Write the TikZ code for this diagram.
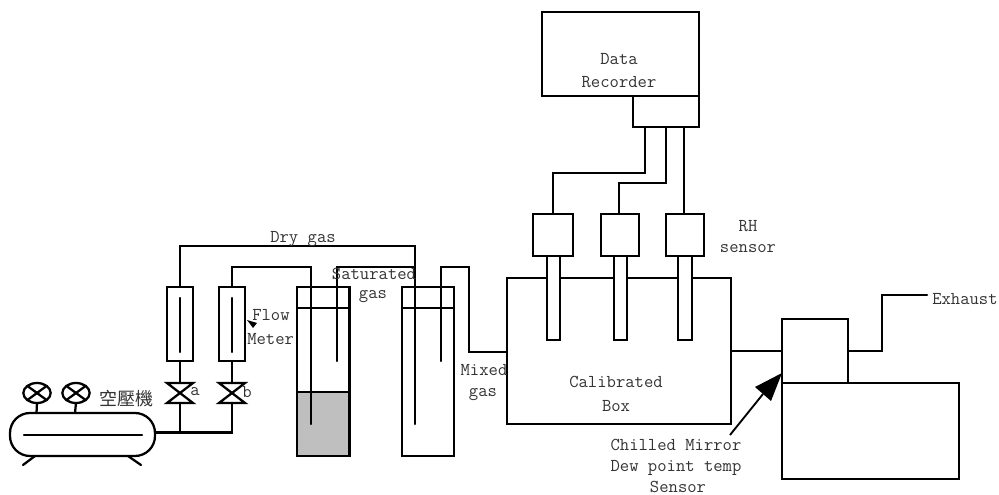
\documentclass[tikz,border=0pt]{standalone}
\usepackage{fontspec}
\usetikzlibrary{shapes.geometric}
\newfontfamily\cjkfont{Noto Sans CJK TC}
\definecolor{txt}{gray}{0.2}
\tikzset{
  pipe/.style={line width=1.7pt,line cap=round,line join=miter,black},
  boxn/.style={draw=black,line width=1.7pt,inner sep=0pt,outer sep=0pt,fill=white},
  lab/.style={font=\ttfamily\fontsize{13.6}{13.6}\selectfont,text=txt,inner sep=0pt},
  gauge/.style={boxn,ellipse,minimum width=20.5pt,minimum height=15pt},
}
% name, x1, y1, x2, y2 in reference pixels
\newcommand{\pxbox}[5]{%
  \pgfmathsetmacro{\cxx}{(#2+#4)/2}%
  \pgfmathsetmacro{\cyy}{(#3+#5)/2}%
  \pgfmathsetmacro{\www}{(#4-#2)*0.75}%
  \pgfmathsetmacro{\hhh}{(#5-#3)*0.75}%
  \node[boxn,minimum width=\www pt,minimum height=\hhh pt] (#1) at (\cxx,\cyy) {};}
% valve centred on x, between y 383 and 403
\newcommand{\valve}[2]{%
  \coordinate (#1top) at (#2,383);
  \coordinate (#1bot) at (#2,403);
  \draw[pipe] (#2-13,383) -- (#2+13,383) -- (#2-13,403) -- (#2+13,403) -- cycle;}
\begin{document}
\begin{tikzpicture}[x=0.75pt,y=-0.75pt]
\useasboundingbox (0,0) rectangle (999,495);
% bottles
\pxbox{bot1}{297}{287}{349.5}{456}
\fill[black!25] (297,392) rectangle (349.5,456);
\draw[pipe] (297,392) -- (349.5,392);
\draw[pipe] (297,287) rectangle (349.5,456);
\draw[pipe] (297,308) -- (349.5,308);
\pxbox{bot2}{402}{287}{454}{456}
\draw[pipe] (402,308) -- (454,308);
% compressor
\draw[boxn,rounded corners=15pt] (10,413) rectangle (155,456);
\coordinate (tankout) at (155,432.5);
\draw[pipe] (24,435) -- (142,435);
\draw[pipe] (35,456) -- (23,465);
\draw[pipe] (128,456) -- (141,465);
\node[gauge] (g1) at (37,393) {};
\node[gauge] (g2) at (76,393) {};
\foreach \g in {g1,g2}{
  \draw[pipe] (\g.north west) -- (\g.south east);
  \draw[pipe] (\g.south west) -- (\g.north east);
}
\draw[pipe] (g1.south) -- (36.5,413);
\draw[pipe] (g2.south) -- (75,413);
% flow meters and valves
\pxbox{ma}{167}{287}{193}{361}
\pxbox{mb}{219}{287}{245}{361}
\draw[pipe] (180,298) -- (180,352);
\draw[pipe] (232,298) -- (232,352);
\valve{va}{180}
\valve{vb}{232}
\draw[pipe] (tankout) -- (232,432.5) -- (vbbot);
\draw[pipe] (vabot) -- (180,432.5);
\draw[pipe] (vatop) -- (ma.south);
\draw[pipe] (vbtop) -- (mb.south);
% gas lines
\coordinate (dryend) at (415,424);
\coordinate (satend) at (311,424);
\coordinate (satout) at (337,361);
\coordinate (mixin) at (441,361);
\draw[pipe] (ma.north) -- (180,246) -- (415,246) -- (dryend);
\draw[pipe] (mb.north) -- (232,267) -- (311,267) -- (satend);
\draw[pipe] (satout) -- (337,267) -- (415,267);
% calibrated box and probes
\pxbox{box}{507}{278}{731}{424}
\draw[pipe] (mixin) -- (441,267) -- (469,267) -- (469,352) -- (box.west |- 0,352);
\pxbox{p1}{547}{256}{560}{340}
\pxbox{p2}{614}{256}{627}{340}
\pxbox{p3}{678}{256}{692}{340}
\pxbox{s1}{533}{214}{573}{256}
\pxbox{s2}{601}{214}{639}{256}
\pxbox{s3}{666}{214}{704}{256}
% data recorder
\pxbox{rec}{542}{12}{699}{96}
\pxbox{sub}{633}{96}{699}{127}
\draw[pipe] (645,127) -- (645,173) -- (553,173) -- (553,214);
\draw[pipe] (666,127) -- (666,183) -- (619,183) -- (619,214);
\draw[pipe] (684,127) -- (684,214);
% dew point sensor
\pxbox{top}{782}{319}{848}{383}
\pxbox{big}{782}{383}{959}{479}
\coordinate (exh) at (927,295);
\draw[pipe] (box.east |- 0,351) -- (top.west |- 0,351);
\draw[pipe] (top.east |- 0,351) -- (882,351) -- (882,295) -- (exh);
\coordinate (arrtail) at (730,435);
\coordinate (arrtip) at (782,373);
\draw[line width=1.4pt] (arrtail) -- (763,394);
\fill (arrtip) -- (755,387) -- (771,401) -- cycle;
\fill (247,320) -- (257,323) -- (253,328) -- cycle;
% labels
\node[lab] (t1) at (303,239) {Dry gas};
\node[lab] (t2) at (374,274) {Saturated};
\node[lab] (t3) at (373,297) {gas};
\node[lab,anchor=west] (t4) at (252,315) {Flow};
\node[lab,anchor=west] (t5) at (247,339) {Meter};
\node[lab] (t6) at (195,392) {a};
\node[lab] (t7) at (247,392) {b};
\node[lab] (t8) at (484,370) {Mixed};
\node[lab] (t9) at (483,395) {gas};
\node[lab] (t10) at (616,382) {Calibrated};
\node[lab] (t11) at (616,406) {Box};
\node[lab] (t12) at (619,59) {Data};
\node[lab] (t13) at (619,82) {Recorder};
\node[lab] (t14) at (748,226) {RH};
\node[lab] (t15) at (748,249) {sensor};
\node[lab] (t16) at (676,445) {Chilled Mirror};
\node[lab] (t17) at (676,468) {Dew point temp};
\node[lab] (t18) at (678,487) {Sensor};
\node[lab,anchor=west] (t19) at (932,299) {Exhaust};
\node[text=txt,inner sep=0pt,font=\cjkfont\fontsize{13.5}{13.5}\selectfont] (t20) at (126,399) {空壓機};
\end{tikzpicture}
\end{document}
